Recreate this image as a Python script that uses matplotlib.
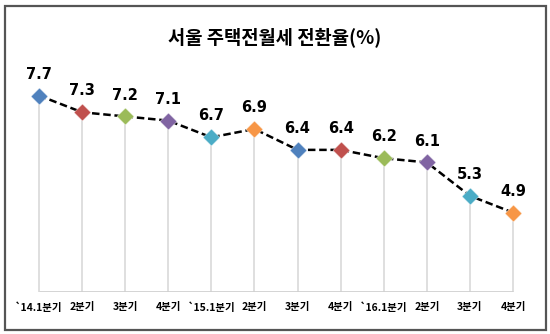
import matplotlib
matplotlib.use("Agg")
import matplotlib.pyplot as plt
from matplotlib.patches import Rectangle

plt.rcParams['font.family'] = ['Noto Sans CJK KR', 'DejaVu Sans']

# data
quarters = ["`14.1분기", "2분기", "3분기", "4분기",
            "`15.1분기", "2분기", "3분기", "4분기",
            "`16.1분기", "2분기", "3분기", "4분기"]
rates = [7.7, 7.3, 7.2, 7.1, 6.7, 6.9, 6.4, 6.4, 6.2, 6.1, 5.3, 4.9]
palette = ["#4F81BD", "#C0504D", "#9BBB59", "#8064A2", "#4BACC6", "#F79646"]

fig = plt.figure(figsize=(5.5, 3.34), dpi=100)
fig.patch.set_facecolor("white")

# outer frame
fig.patches.append(Rectangle((5 / 550, 4 / 334), 541 / 550, 324 / 334,
                             transform=fig.transFigure, fill=False,
                             edgecolor="#555555", linewidth=1.6))

ax = fig.add_axes([20 / 550, 1 - 292 / 334, 512 / 550, 232 / 334])
ymin, ymax = 3.0, 8.55
ax.set_xlim(-0.44, 11.44)
ax.set_ylim(ymin, ymax)
ax.axis("off")

xs = list(range(len(rates)))

# drop lines and baseline
ax.vlines(xs, ymin, rates, color="#D9D9D9", linewidth=1.2, zorder=1)
ax.hlines(ymin, 0, len(rates) - 1, color="#D0D0D0", linewidth=2, zorder=1)

ax.plot(xs, rates, color="black", linestyle=(0, (3, 1.5)), linewidth=1.8, zorder=2)
for i, v in enumerate(rates):
    ax.scatter(i, v, marker="D", s=75, color=palette[i % len(palette)],
               edgecolor="white", linewidth=0.3, zorder=3, clip_on=False)
    ax.annotate(f"{v}", (i, v), xytext=(0, 10), textcoords="offset points",
                ha="center", va="bottom", fontsize=10.5, fontweight="bold",
                family=["Liberation Sans Narrow", "DejaVu Sans"])

for i, q in enumerate(quarters):
    ax.text(i, ymin - 0.25, q, ha="center", va="top", fontsize=7.5,
            fontweight="bold")

fig.text(0.5, 1 - 37 / 334, "서울 주택전월세 전환율(%)", ha="center", va="center",
         fontsize=13.5, fontweight="bold")

fig.savefig("out.png", dpi=100)
